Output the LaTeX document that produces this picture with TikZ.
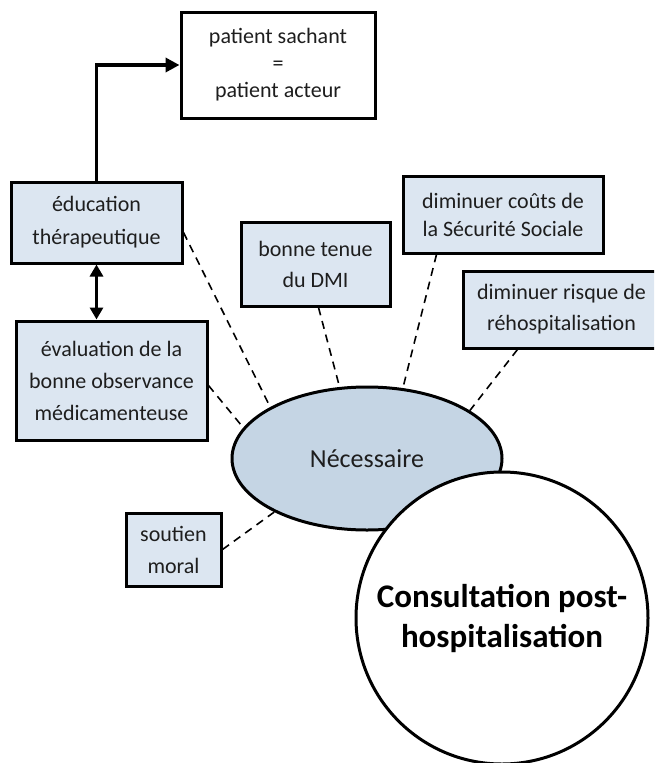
\documentclass[tikz,border=0pt]{standalone}
\usepackage{fontspec}
\setmainfont{Carlito}
\usetikzlibrary{arrows.meta,shapes.geometric}
\definecolor{boxblue}{HTML}{DCE6F1}
\definecolor{ovalblue}{HTML}{C5D5E4}
\definecolor{inkgray}{HTML}{1E1E1E}
\tikzset{
  infobox/.style={draw, line width=3pt, fill=boxblue, align=center, inner sep=0pt,
    text=inkgray, font=\fontsize{22}{31}\selectfont},
  link/.style={line width=1.6pt, dash pattern=on 8pt off 6pt},
  bigarrow/.style={line width=3.5pt, line join=miter, -{Triangle[length=14pt,width=14pt]}},
}
\begin{document}
\begin{tikzpicture}[x=1pt,y=-1pt]
    \useasboundingbox (0,0) rectangle (654,763);
    \clip (0,0) rectangle (654,763);
    % boxes
    \node[infobox, fill=white, minimum width=194pt, minimum height=106pt,
      font=\fontsize{22}{27}\selectfont] (actor) at (278,65) {patient sachant\\=\\patient acteur};
    \node[infobox, minimum width=171pt, minimum height=81pt,
      font=\fontsize{22}{33}\selectfont] (edu) at (96.5,222.5) {éducation\\thérapeutique};
    \node[infobox, minimum width=191pt, minimum height=119pt,
      font=\fontsize{22}{32}\selectfont] (eval) at (111.5,380.5) {évaluation de la\\bonne observance\\médicamenteuse};
    \node[infobox, minimum width=149pt, minimum height=84pt] (dmi) at (315.5,264) {bonne tenue\\du DMI};
    \node[infobox, minimum width=200pt, minimum height=77pt,
      font=\fontsize{22}{28}\selectfont] (cost) at (503,214.5) {diminuer coûts de\\la Sécurité Sociale};
    \node[infobox, minimum width=197pt, minimum height=77pt] (risk) at (561.5,309.5) {diminuer risque de\\réhospitalisation};
    \node[infobox, minimum width=95pt, minimum height=73pt,
      font=\fontsize{22}{32}\selectfont] (moral) at (173.5,549.5) {soutien\\moral};
    % centre
    \node[ellipse, draw, line width=3pt, fill=ovalblue, minimum width=270pt, minimum height=143pt,
      inner sep=0pt, text=inkgray, font=\fontsize{26}{30}\selectfont] (need) at (367,458.5) {Nécessaire};
    \draw[link] ([yshift=-10pt]edu.east) -- (need.152.7);
    \draw[link] ([yshift=-5pt]eval.east) -- (need.166.5);
    \draw[link] ([xshift=3pt]dmi.south) -- (need.111.7);
    \draw[link] ([xshift=35pt]cost.south west) -- (need.63.9);
    \draw[link] ([xshift=56pt]risk.south west) -- (need.25.2);
    \draw[link] (moral.east) -- (need.210.7);
    \node[circle, draw, line width=3pt, fill=white, minimum size=292pt, inner sep=0pt, align=center,
      font=\bfseries\fontsize{33}{40}\selectfont] (consult) at (502,618) {Consultation post-\\hospitalisation};
    % arrows
    \draw[bigarrow] (edu.north) |- (actor.west);
    \draw[line width=3.5pt, {Triangle[length=12pt,width=13pt]}-{Triangle[length=12pt,width=13pt]}]
      (edu.south) -- (edu.south |- eval.north);
\end{tikzpicture}
\end{document}
